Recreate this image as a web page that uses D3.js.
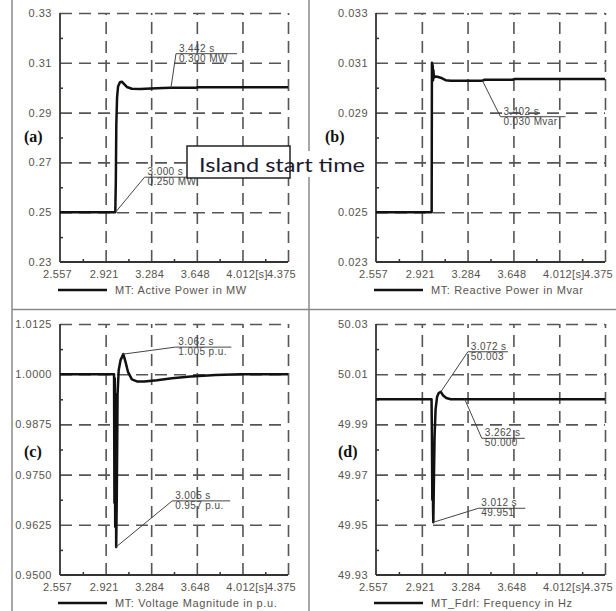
<!DOCTYPE html>
<html>
<head>
<meta charset="utf-8">
<script src="https://cdn.jsdelivr.net/npm/d3@7"></script>
<style>
  body { margin: 0; background: #fff; }
  svg { display: block; }
</style>
</head>
<body>
<script>
// time axis shared by all four plots
var xTicks = [2.557, 2.921, 3.284, 3.648, 4.012, 4.375];
var xTickLabels = ["2.557", "2.921", "3.284", "3.648", "4.012[s]", "4.375"];

// (a) active power
var activeTicks = [0.23, 0.25, 0.27, 0.29, 0.31, 0.33];
var activeTime  = [2.557, 2.998, 3.002, 3.006, 3.012, 3.020, 3.035, 3.050, 3.065, 3.090, 3.130, 3.200, 3.280, 3.380, 3.442, 3.640, 3.660, 4.375];
var activePower = [0.250, 0.250, 0.262, 0.285, 0.296, 0.3005, 0.3022, 0.3024, 0.3016, 0.3003, 0.2996, 0.2995, 0.2997, 0.2999, 0.3000, 0.3000, 0.3002, 0.3002];
var activeMarks = [
    { t: 3.442, v: 0.300, top: "3.442 s", bottom: "0.300 MW" },
    { t: 3.000, v: 0.250, top: "3.000 s", bottom: "0.250 MW" }
];

// (b) reactive power
var reactiveTicks = [0.023, 0.025, 0.027, 0.029, 0.031, 0.033];
var reactiveTime  = [2.557, 2.999, 3.001, 3.004, 3.007, 3.010, 3.013, 3.017, 3.025, 3.045, 3.070, 3.110, 3.150, 3.402, 3.420, 3.640, 3.660, 4.375];
var reactivePower = [0.0250, 0.0250, 0.0310, 0.0304, 0.0309, 0.0303, 0.0307, 0.0304, 0.03045, 0.03044, 0.0304, 0.0303, 0.03028, 0.03028, 0.03032, 0.03032, 0.03035, 0.03035];
var reactiveMarks = [
    { t: 3.402, v: 0.03028, top: "3.402 s", bottom: "0.030 Mvar" }
];

// (c) voltage magnitude
var voltageTicks = [0.9500, 0.9625, 0.9750, 0.9875, 1.0000, 1.0125];
var voltageTime  = [2.557, 2.988, 2.991, 2.994, 2.997, 3.000, 3.005, 3.010, 3.016, 3.025, 3.040, 3.062, 3.080, 3.100, 3.130, 3.170, 3.230, 3.330, 3.450, 3.600, 3.800, 4.000, 4.375];
var voltageMag   = [1.0000, 1.0000, 0.9680, 0.9990, 0.9620, 0.9950, 0.9570, 0.9700, 0.9950, 1.0010, 1.0035, 1.0050, 1.0030, 1.0005, 0.9987, 0.9982, 0.9982, 0.9985, 0.9990, 0.9994, 0.9998, 1.0000, 1.0000];
var voltageMarks = [
    { t: 3.062, v: 1.005, top: "3.062 s", bottom: "1.005 p.u." },
    { t: 3.005, v: 0.957, top: "3.005 s", bottom: "0.957 p.u." }
];

// (d) frequency
var freqTicks = [49.93, 49.95, 49.97, 49.99, 50.01, 50.03];
var freqTime  = [2.557, 2.998, 3.001, 3.004, 3.007, 3.010, 3.012, 3.016, 3.022, 3.030, 3.042, 3.055, 3.072, 3.090, 3.115, 3.150, 3.262, 4.375];
var freqHz    = [50.000, 50.000, 49.985, 49.960, 49.980, 49.956, 49.951, 49.965, 49.985, 49.996, 50.001, 50.0025, 50.003, 50.0015, 50.0005, 50.000, 50.000, 50.000];
var freqMarks = [
    { t: 3.072, v: 50.003, top: "3.072 s", bottom: "50.003" },
    { t: 3.262, v: 50.000, top: "3.262 s", bottom: "50.000" },
    { t: 3.012, v: 49.951, top: "3.012 s", bottom: "49.951" }
];

var svgWidth = 616;
var svgHeight = 611;

var panels = [
    { x0: 60, x1: 288, y0: 13, y1: 262, time: activeTime, values: activePower, ticks: activeTicks,
      fmt: d3.format(".2f"), marks: activeMarks, leaders: [[5, -34, 61], [29, -35, 60]],
      legend: "MT: Active Power in MW", tag: "(a)", tagX: 24, tagY: 142 },
    { x0: 376, x1: 605, y0: 13, y1: 262, time: reactiveTime, values: reactivePower, ticks: reactiveTicks,
      fmt: d3.format(".3f"), marks: reactiveMarks, leaders: [[18, 36, 65]],
      legend: "MT: Reactive Power in Mvar", tag: "(b)", tagX: 325, tagY: 142 },
    { x0: 60, x1: 288, y0: 324, y1: 575, time: voltageTime, values: voltageMag, ticks: voltageTicks,
      fmt: d3.format(".4f"), marks: voltageMarks, leaders: [[52, -7, 56], [56, -46, 58]],
      legend: "MT: Voltage Magnitude in p.u.", tag: "(c)", tagX: 24, tagY: 457 },
    { x0: 376, x1: 605, y0: 324, y1: 575, time: freqTime, values: freqHz, ticks: freqTicks,
      fmt: d3.format(".2f"), marks: freqMarks, leaders: [[27, -40, 40], [17, 39, 43], [45, -14, 47]],
      legend: "MT_Fdrl: Frequency in Hz", tag: "(d)", tagX: 338, tagY: 457 }
];

var svg = d3.select("body")
    .append("svg")
    .attr("width", svgWidth)
    .attr("height", svgHeight);

svg.append("rect")
    .attr("width", svgWidth)
    .attr("height", svgHeight)
    .attr("fill", "#fff");

// frame between the four plots
var frame = svg.append("g")
    .attr("stroke", "#8a8a8a")
    .attr("stroke-width", 1.5);
frame.append("line").attr("x1", 12).attr("x2", 12).attr("y1", 0).attr("y2", svgHeight);
frame.append("line").attr("x1", 309).attr("x2", 309).attr("y1", 0).attr("y2", svgHeight);
frame.append("line").attr("x1", 12).attr("x2", svgWidth).attr("y1", 309.5).attr("y2", 309.5);

var labelFont = "'Liberation Sans', Arial, sans-serif";
var labelColor = "#58534e";

function mids(arr) {
    return d3.pairs(arr).map(function(p) { return (p[0] + p[1]) / 2; });
}

panels.forEach(function(p) {
    var x = d3.scaleLinear()
        .domain([xTicks[0], xTicks[xTicks.length - 1]])
        .range([p.x0, p.x1]);
    var y = d3.scaleLinear()
        .domain([p.ticks[0], p.ticks[p.ticks.length - 1]])
        .range([p.y1, p.y0]);

    var chart = svg.append("g");

    // dashed grid
    chart.append("g")
        .attr("transform", "translate(" + p.x0 + ",0)")
        .call(d3.axisLeft(y).tickValues(p.ticks.slice(1)).tickSize(-(p.x1 - p.x0)).tickFormat(""))
        .call(function(g) { g.select(".domain").remove(); })
        .selectAll("line")
        .attr("stroke", "#555")
        .attr("stroke-width", 1.6)
        .attr("stroke-dasharray", "12,7");
    chart.append("g")
        .attr("transform", "translate(0," + p.y1 + ")")
        .call(d3.axisBottom(x).tickValues(xTicks.slice(1)).tickSize(-(p.y1 - p.y0)).tickFormat(""))
        .call(function(g) { g.select(".domain").remove(); })
        .selectAll("line")
        .attr("stroke", "#555")
        .attr("stroke-width", 1.6)
        .attr("stroke-dasharray", "12,7");

    // minor ticks
    chart.append("g")
        .attr("transform", "translate(" + p.x0 + ",0)")
        .call(d3.axisLeft(y).tickValues(mids(p.ticks)).tickSize(-3).tickFormat(""))
        .call(function(g) { g.select(".domain").remove(); })
        .selectAll("line").attr("stroke", "#333").attr("stroke-width", 1.5);
    chart.append("g")
        .attr("transform", "translate(0," + p.y1 + ")")
        .call(d3.axisBottom(x).tickValues(mids(xTicks)).tickSize(-3).tickFormat(""))
        .call(function(g) { g.select(".domain").remove(); })
        .selectAll("line").attr("stroke", "#333").attr("stroke-width", 1.5);

    // solid axis lines
    chart.append("line")
        .attr("x1", p.x0).attr("x2", p.x0).attr("y1", p.y0).attr("y2", p.y1)
        .attr("stroke", "#333").attr("stroke-width", 1.8);
    chart.append("line")
        .attr("x1", p.x0).attr("x2", p.x1).attr("y1", p.y1).attr("y2", p.y1)
        .attr("stroke", "#333").attr("stroke-width", 1.8);

    // tick labels
    var yLab = chart.append("g")
        .attr("transform", "translate(" + p.x0 + ",0)")
        .call(d3.axisLeft(y).tickValues(p.ticks).tickFormat(p.fmt).tickSize(0).tickPadding(8))
        .call(function(g) { g.select(".domain").remove(); });
    yLab.attr("font-family", labelFont).attr("font-size", 11);
    yLab.selectAll("text").attr("fill", labelColor).attr("letter-spacing", 0.5);

    var xLab = chart.append("g")
        .attr("transform", "translate(0," + p.y1 + ")")
        .call(d3.axisBottom(x).tickValues(xTicks).tickFormat(function(d, i) { return xTickLabels[i]; })
            .tickSize(0).tickPadding(8))
        .call(function(g) { g.select(".domain").remove(); });
    xLab.attr("font-family", labelFont).attr("font-size", 11);
    xLab.selectAll("text")
        .attr("fill", labelColor)
        .attr("letter-spacing", 0.3)
        .attr("dx", function(d, i) { return i === 0 ? -3 : (i === 4 ? 4 : (i === 5 ? -7 : -2)); });

    // curve
    var line = d3.line()
        .x(function(d) { return x(d[0]); })
        .y(function(d) { return y(d[1]); });
    chart.append("path")
        .datum(d3.zip(p.time, p.values))
        .attr("d", line)
        .attr("fill", "none")
        .attr("stroke", "#111")
        .attr("stroke-width", 2.5)
        .attr("stroke-linejoin", "round");

    // value markers
    p.marks.forEach(function(m, i) {
        var lead = p.leaders[i];
        var px = x(m.t), py = y(m.v);
        var ex = px + lead[0], ey = py + lead[1];
        chart.append("path")
            .attr("d", "M" + px + "," + py + "L" + ex + "," + ey + "L" + (ex + lead[2]) + "," + ey)
            .attr("fill", "none")
            .attr("stroke", "#444")
            .attr("stroke-width", 1);
        chart.append("text")
            .attr("x", ex + 3).attr("y", ey - 2)
            .attr("font-family", labelFont).attr("font-size", 10)
            .attr("letter-spacing", 0.4)
            .attr("fill", "#4a4a4a")
            .text(m.top);
        chart.append("text")
            .attr("x", ex + 3).attr("y", ey + 8)
            .attr("font-family", labelFont).attr("font-size", 10)
            .attr("letter-spacing", 0.4)
            .attr("fill", "#4a4a4a")
            .text(m.bottom);
    });

    // panel letter
    chart.append("text")
        .attr("x", p.tagX).attr("y", p.tagY)
        .attr("font-family", "'Liberation Serif', 'Times New Roman', serif")
        .attr("font-weight", "bold")
        .attr("font-size", 16)
        .attr("fill", "#111")
        .text(p.tag);

    // legend
    chart.append("line")
        .attr("x1", p.x0 - 2).attr("x2", p.x0 + 47)
        .attr("y1", p.y1 + 28).attr("y2", p.y1 + 28)
        .attr("stroke", "#111").attr("stroke-width", 2.5);
    chart.append("text")
        .attr("x", p.x0 + 55).attr("y", p.y1 + 32)
        .attr("font-family", labelFont).attr("font-size", 11)
        .attr("letter-spacing", 0.6)
        .attr("fill", labelColor)
        .text(p.legend);
});

// "Island start time" callout box
var island = svg.append("g");
island.append("rect")
    .attr("x", 290).attr("y", 151).attr("width", 78).attr("height", 26)
    .attr("fill", "#fff");
island.append("rect")
    .attr("x", 187).attr("y", 146).attr("width", 103).attr("height", 32)
    .attr("fill", "#fff")
    .attr("stroke", "#222")
    .attr("stroke-width", 1.5);
island.append("text")
    .attr("x", 199).attr("y", 172)
    .attr("font-family", "Lato, 'Noto Sans', sans-serif")
    .attr("font-size", 19)
    .attr("fill", "#1c1a30")
    .attr("textLength", 166)
    .attr("lengthAdjust", "spacingAndGlyphs")
    .text("Island start time");
</script>
</body>
</html>
